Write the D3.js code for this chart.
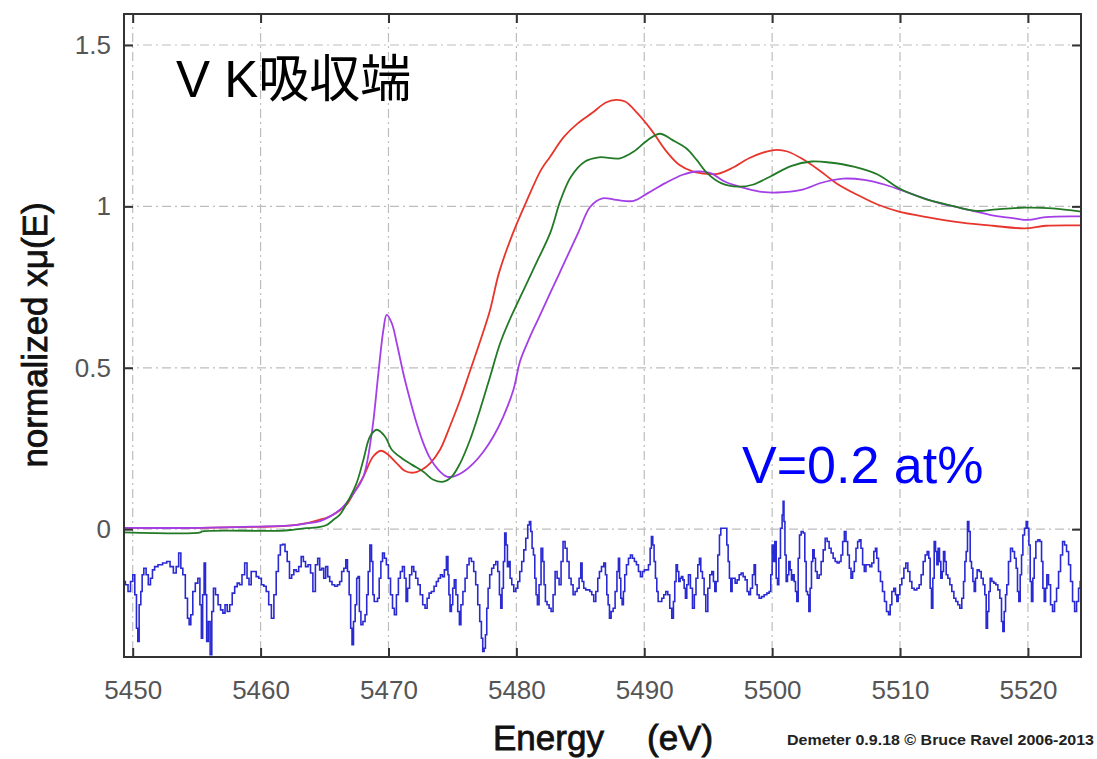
<!DOCTYPE html>
<html>
<head>
<meta charset="utf-8">
<script src="https://cdn.jsdelivr.net/npm/d3@7"></script>
<style>
  html, body { margin: 0; padding: 0; background: #fff; }
  svg { display: block; }
  text { font-family: "Liberation Sans", Arial, "Noto Sans CJK JP", sans-serif; }
</style>
</head>
<body>
<svg id="chart" width="1097" height="759"></svg>
<script>
// Axis settings
const energyDomain = [5449.32, 5524.15];
const muDomain = [-0.396, 1.596];
const energyTicks = [5450, 5460, 5470, 5480, 5490, 5500, 5510, 5520];
const muTicks = [0, 0.5, 1, 1.5];
const muTickLabels = ["0", "0.5", "1", "1.5"];

// Normalized spectra: [energy (eV), normalized mu]
const redSpectrum = [
  [5449.32, 0.004], [5455.3, 0.004], [5459.6, 0.007], [5462.0, 0.010], [5463.6, 0.019],
  [5464.7, 0.030], [5465.2, 0.036], [5466.2, 0.058], [5466.8, 0.08], [5467.25, 0.11],
  [5468.04, 0.163], [5468.8, 0.225], [5469.4, 0.243], [5470.0, 0.23], [5470.65, 0.204],
  [5471.3, 0.18], [5471.95, 0.175], [5472.6, 0.184], [5473.25, 0.204], [5474.03, 0.246],
  [5474.8, 0.318], [5475.6, 0.40], [5476.4, 0.493], [5477.2, 0.586], [5477.95, 0.68],
  [5478.64, 0.794], [5479.74, 0.918], [5480.84, 1.02], [5481.93, 1.113], [5482.64, 1.154],
  [5483.73, 1.216], [5484.82, 1.258], [5485.91, 1.289], [5487.0, 1.322], [5487.8, 1.330],
  [5488.5, 1.325], [5489.46, 1.289], [5490.55, 1.237], [5491.64, 1.175], [5492.73, 1.129],
  [5493.83, 1.108], [5494.92, 1.101], [5495.74, 1.101], [5496.83, 1.118], [5498.19, 1.149],
  [5499.56, 1.170], [5500.38, 1.175], [5501.2, 1.170], [5502.28, 1.149], [5503.65, 1.113],
  [5505.01, 1.072], [5506.65, 1.036], [5508.29, 1.005], [5509.92, 0.984], [5512.1, 0.967],
  [5514.84, 0.950], [5517.29, 0.940], [5519.75, 0.932], [5521.39, 0.940], [5524.15, 0.941]
];

const greenSpectrum = [
  [5449.32, -0.010], [5455.3, -0.010], [5455.4, -0.007], [5461.5, -0.005], [5462.5, -0.002],
  [5463.6, 0.003], [5464.65, 0.007], [5465.17, 0.013], [5465.7, 0.029], [5466.2, 0.045],
  [5466.74, 0.08], [5467.5, 0.142], [5468.04, 0.215], [5468.56, 0.287], [5469.08, 0.308],
  [5469.73, 0.287], [5470.26, 0.246], [5471.04, 0.22], [5471.82, 0.2], [5472.73, 0.178],
  [5473.51, 0.153], [5474.29, 0.147], [5474.95, 0.163], [5475.6, 0.204], [5476.38, 0.277],
  [5477.16, 0.37], [5477.95, 0.473], [5478.73, 0.576], [5479.47, 0.648], [5480.57, 0.741],
  [5481.67, 0.834], [5482.64, 0.917], [5483.46, 1.02], [5484.27, 1.092], [5485.37, 1.139],
  [5486.45, 1.152], [5488.1, 1.149], [5489.18, 1.170], [5490.28, 1.206], [5491.23, 1.225],
  [5492.19, 1.206], [5493.28, 1.18], [5494.1, 1.144], [5494.92, 1.103], [5496.01, 1.072],
  [5497.37, 1.061], [5498.47, 1.067], [5499.83, 1.092], [5501.47, 1.125], [5503.1, 1.139],
  [5504.47, 1.136], [5506.38, 1.123], [5508.29, 1.098], [5509.92, 1.056], [5511.83, 1.025],
  [5513.75, 1.005], [5515.93, 0.986], [5517.57, 0.991], [5519.75, 0.996], [5521.93, 0.994],
  [5524.15, 0.984]
];

const purpleSpectrum = [
  [5449.32, 0.004], [5455.3, 0.004], [5459.6, 0.008], [5462.5, 0.012], [5463.6, 0.018],
  [5464.65, 0.025], [5466.2, 0.06], [5467.25, 0.11], [5468.04, 0.163], [5468.69, 0.297],
  [5469.21, 0.483], [5469.6, 0.617], [5469.86, 0.664], [5470.26, 0.638], [5470.65, 0.576],
  [5471.16, 0.483], [5471.69, 0.40], [5472.2, 0.328], [5472.73, 0.266], [5473.25, 0.22],
  [5473.9, 0.184], [5474.56, 0.163], [5475.07, 0.163], [5475.86, 0.178], [5476.64, 0.204],
  [5477.42, 0.24], [5478.2, 0.287], [5478.98, 0.349], [5479.77, 0.432], [5480.29, 0.52],
  [5481.0, 0.59], [5481.67, 0.648], [5482.64, 0.731], [5483.73, 0.824], [5484.82, 0.917],
  [5485.78, 0.999], [5486.73, 1.025], [5487.82, 1.02], [5489.18, 1.017], [5490.28, 1.041],
  [5491.64, 1.072], [5493.01, 1.098], [5494.1, 1.108], [5495.19, 1.103], [5496.28, 1.077],
  [5497.64, 1.059], [5499.01, 1.046], [5500.38, 1.043], [5502.28, 1.051], [5503.93, 1.074],
  [5505.56, 1.086], [5507.2, 1.082], [5508.84, 1.067], [5510.75, 1.041], [5512.66, 1.015],
  [5514.84, 0.994], [5517.02, 0.974], [5518.93, 0.963], [5520.02, 0.958], [5521.39, 0.967],
  [5524.15, 0.969]
];

// Dilute sample (V = 0.2 at%), drawn offset below the reference spectra
const diluteSpectrum = [
  [5449.32,-0.162],[5449.53,-0.172],[5449.74,-0.193],[5449.92,-0.162],[5450.10,-0.141],
  [5450.23,-0.203],[5450.36,-0.307],[5450.44,-0.348],[5450.57,-0.234],[5450.70,-0.193],
  [5450.78,-0.141],[5450.96,-0.121],[5451.14,-0.141],[5451.30,-0.172],[5451.48,-0.152],
  [5451.61,-0.126],[5451.82,-0.116],[5452.14,-0.110],[5452.53,-0.105],[5452.79,-0.100],
  [5453.05,-0.116],[5453.31,-0.136],[5453.49,-0.116],[5453.70,-0.074],[5453.83,-0.121],
  [5454.01,-0.141],[5454.22,-0.214],[5454.35,-0.276],[5454.48,-0.296],[5454.61,-0.265],
  [5454.79,-0.193],[5455.00,-0.167],[5455.19,-0.152],[5455.32,-0.234],[5455.42,-0.338],
  [5455.52,-0.203],[5455.65,-0.105],[5455.73,-0.203],[5455.84,-0.348],[5455.99,-0.286],
  [5456.12,-0.389],[5456.25,-0.255],[5456.38,-0.183],[5456.57,-0.203],[5456.78,-0.234],
  [5456.96,-0.250],[5457.14,-0.260],[5457.30,-0.234],[5457.48,-0.255],[5457.69,-0.234],
  [5457.87,-0.198],[5458.08,-0.178],[5458.26,-0.167],[5458.44,-0.172],[5458.65,-0.141],
  [5458.86,-0.105],[5459.02,-0.152],[5459.17,-0.172],[5459.36,-0.131],[5459.56,-0.131],
  [5459.75,-0.147],[5459.96,-0.152],[5460.16,-0.172],[5460.35,-0.177],[5460.53,-0.193],
  [5460.74,-0.234],[5460.95,-0.276],[5461.13,-0.203],[5461.31,-0.131],[5461.47,-0.080],
  [5461.62,-0.049],[5461.83,-0.047],[5461.99,-0.069],[5462.17,-0.100],[5462.35,-0.152],
  [5462.51,-0.141],[5462.69,-0.126],[5462.88,-0.131],[5463.08,-0.116],[5463.27,-0.085],
  [5463.42,-0.100],[5463.61,-0.116],[5463.81,-0.110],[5464.00,-0.136],[5464.18,-0.193],
  [5464.39,-0.110],[5464.54,-0.090],[5464.70,-0.126],[5464.86,-0.121],[5465.01,-0.152],
  [5465.17,-0.116],[5465.33,-0.147],[5465.48,-0.162],[5465.69,-0.172],[5465.90,-0.177],
  [5466.11,-0.172],[5466.26,-0.162],[5466.42,-0.131],[5466.60,-0.121],[5466.73,-0.095],
  [5466.86,-0.131],[5466.99,-0.203],[5467.10,-0.307],[5467.20,-0.358],[5467.33,-0.286],
  [5467.46,-0.234],[5467.57,-0.152],[5467.67,-0.147],[5467.78,-0.255],[5467.91,-0.296],
  [5468.09,-0.286],[5468.25,-0.265],[5468.35,-0.203],[5468.48,-0.131],[5468.61,-0.049],
  [5468.74,-0.100],[5468.82,-0.203],[5468.95,-0.224],[5469.08,-0.224],[5469.21,-0.214],
  [5469.34,-0.152],[5469.47,-0.100],[5469.60,-0.074],[5469.76,-0.090],[5469.91,-0.110],
  [5470.07,-0.152],[5470.25,-0.203],[5470.38,-0.245],[5470.54,-0.265],[5470.70,-0.203],
  [5470.85,-0.152],[5471.01,-0.131],[5471.17,-0.116],[5471.32,-0.152],[5471.43,-0.224],
  [5471.56,-0.183],[5471.74,-0.141],[5471.90,-0.116],[5472.05,-0.131],[5472.21,-0.152],
  [5472.39,-0.172],[5472.57,-0.203],[5472.78,-0.234],[5472.94,-0.245],[5473.10,-0.214],
  [5473.25,-0.198],[5473.46,-0.193],[5473.67,-0.177],[5473.82,-0.162],[5473.98,-0.152],
  [5474.14,-0.141],[5474.29,-0.147],[5474.45,-0.126],[5474.61,-0.085],[5474.69,-0.141],
  [5474.76,-0.203],[5474.87,-0.255],[5474.97,-0.234],[5475.08,-0.183],[5475.21,-0.157],
  [5475.34,-0.203],[5475.49,-0.255],[5475.60,-0.296],[5475.73,-0.234],[5475.91,-0.193],
  [5476.07,-0.152],[5476.22,-0.110],[5476.38,-0.090],[5476.59,-0.100],[5476.74,-0.131],
  [5476.90,-0.172],[5477.06,-0.234],[5477.21,-0.286],[5477.32,-0.338],[5477.42,-0.379],
  [5477.53,-0.369],[5477.63,-0.327],[5477.74,-0.245],[5477.84,-0.183],[5477.99,-0.141],
  [5478.15,-0.121],[5478.31,-0.110],[5478.47,-0.100],[5478.62,-0.131],[5478.73,-0.203],
  [5478.83,-0.245],[5478.93,-0.183],[5479.04,-0.100],[5479.14,-0.012],[5479.25,-0.049],
  [5479.35,-0.116],[5479.46,-0.100],[5479.56,-0.152],[5479.72,-0.172],[5479.87,-0.193],
  [5480.03,-0.183],[5480.19,-0.162],[5480.34,-0.131],[5480.50,-0.100],[5480.66,-0.064],
  [5480.81,-0.028],[5480.97,0.013],[5481.07,0.024],[5481.18,-0.007],[5481.28,-0.059],
  [5481.39,-0.080],[5481.49,-0.152],[5481.59,-0.203],[5481.70,-0.234],[5481.85,-0.172],
  [5482.01,-0.059],[5482.11,-0.100],[5482.22,-0.172],[5482.32,-0.224],[5482.48,-0.234],
  [5482.64,-0.245],[5482.79,-0.255],[5482.95,-0.203],[5483.11,-0.131],[5483.26,-0.152],
  [5483.42,-0.172],[5483.57,-0.100],[5483.73,-0.038],[5483.89,-0.059],[5484.04,-0.100],
  [5484.20,-0.152],[5484.36,-0.172],[5484.51,-0.203],[5484.67,-0.193],[5484.83,-0.183],
  [5484.98,-0.152],[5485.09,-0.105],[5485.19,-0.162],[5485.35,-0.183],[5485.50,-0.188],
  [5485.66,-0.188],[5485.82,-0.193],[5485.97,-0.203],[5486.13,-0.224],[5486.29,-0.193],
  [5486.44,-0.152],[5486.55,-0.131],[5486.76,-0.116],[5486.91,-0.105],[5487.02,-0.141],
  [5487.12,-0.203],[5487.23,-0.234],[5487.33,-0.276],[5487.49,-0.255],[5487.64,-0.245],
  [5487.80,-0.193],[5487.93,-0.131],[5488.03,-0.090],[5488.11,-0.152],[5488.22,-0.214],
  [5488.32,-0.234],[5488.42,-0.193],[5488.53,-0.141],[5488.69,-0.110],[5488.84,-0.090],
  [5489.00,-0.080],[5489.15,-0.090],[5489.31,-0.100],[5489.47,-0.110],[5489.62,-0.131],
  [5489.78,-0.147],[5489.94,-0.131],[5490.09,-0.126],[5490.25,-0.126],[5490.41,-0.110],
  [5490.51,-0.059],[5490.61,-0.023],[5490.72,-0.049],[5490.82,-0.100],[5490.93,-0.152],
  [5491.03,-0.193],[5491.14,-0.224],[5491.29,-0.224],[5491.45,-0.214],[5491.61,-0.203],
  [5491.76,-0.193],[5491.92,-0.203],[5492.07,-0.245],[5492.23,-0.276],[5492.33,-0.224],
  [5492.44,-0.162],[5492.54,-0.110],[5492.65,-0.131],[5492.75,-0.162],[5492.86,-0.152],
  [5492.96,-0.147],[5493.07,-0.157],[5493.17,-0.183],[5493.27,-0.214],[5493.38,-0.172],
  [5493.53,-0.141],[5493.69,-0.183],[5493.85,-0.245],[5493.98,-0.203],[5494.11,-0.152],
  [5494.26,-0.110],[5494.37,-0.090],[5494.47,-0.131],[5494.63,-0.152],[5494.73,-0.203],
  [5494.89,-0.255],[5495.05,-0.183],[5495.20,-0.141],[5495.36,-0.131],[5495.46,-0.162],
  [5495.57,-0.193],[5495.67,-0.162],[5495.83,-0.080],[5495.93,-0.018],[5496.04,0.003],
  [5496.19,0.003],[5496.40,0.003],[5496.51,-0.049],[5496.61,-0.100],[5496.71,-0.152],
  [5496.82,-0.193],[5496.92,-0.152],[5497.03,-0.152],[5497.18,-0.167],[5497.34,-0.157],
  [5497.50,-0.141],[5497.65,-0.136],[5497.81,-0.147],[5497.97,-0.157],[5498.12,-0.193],
  [5498.23,-0.203],[5498.38,-0.183],[5498.54,-0.141],[5498.64,-0.110],[5498.75,-0.172],
  [5498.90,-0.203],[5499.06,-0.214],[5499.27,-0.209],[5499.48,-0.203],[5499.69,-0.198],
  [5499.84,-0.193],[5499.95,-0.141],[5500.05,-0.049],[5500.16,-0.100],[5500.26,-0.038],
  [5500.37,-0.152],[5500.47,-0.172],[5500.57,-0.090],[5500.73,0.003],[5500.83,0.044],
  [5500.89,0.086],[5500.96,0.024],[5501.04,-0.080],[5501.15,-0.162],[5501.25,-0.141],
  [5501.35,-0.100],[5501.46,-0.126],[5501.56,-0.157],[5501.67,-0.141],[5501.77,-0.162],
  [5501.88,-0.193],[5501.98,-0.224],[5502.09,-0.090],[5502.19,-0.018],[5502.35,-0.007],
  [5502.50,-0.012],[5502.61,-0.100],[5502.71,-0.193],[5502.82,-0.203],[5502.92,-0.255],
  [5503.02,-0.183],[5503.13,-0.100],[5503.23,-0.064],[5503.34,-0.090],[5503.44,-0.131],
  [5503.60,-0.152],[5503.75,-0.141],[5503.91,-0.100],[5504.07,-0.064],[5504.22,-0.028],
  [5504.38,-0.038],[5504.53,-0.059],[5504.69,-0.074],[5504.85,-0.090],[5505.00,-0.100],
  [5505.16,-0.105],[5505.32,-0.100],[5505.45,-0.080],[5505.58,-0.038],[5505.71,-0.007],
  [5505.84,-0.038],[5505.97,-0.080],[5506.10,-0.121],[5506.23,-0.152],[5506.36,-0.131],
  [5506.49,-0.100],[5506.62,-0.059],[5506.75,-0.038],[5506.88,-0.033],[5507.01,-0.059],
  [5507.14,-0.110],[5507.27,-0.131],[5507.40,-0.110],[5507.56,-0.110],[5507.72,-0.116],
  [5507.87,-0.105],[5508.03,-0.069],[5508.13,-0.059],[5508.24,-0.090],[5508.39,-0.131],
  [5508.55,-0.162],[5508.71,-0.193],[5508.86,-0.224],[5509.02,-0.255],[5509.18,-0.265],
  [5509.28,-0.234],[5509.44,-0.193],[5509.59,-0.183],[5509.70,-0.203],[5509.80,-0.224],
  [5509.91,-0.203],[5510.06,-0.172],[5510.22,-0.152],[5510.38,-0.121],[5510.53,-0.105],
  [5510.69,-0.131],[5510.85,-0.162],[5511.00,-0.183],[5511.21,-0.188],[5511.42,-0.183],
  [5511.57,-0.172],[5511.73,-0.141],[5511.89,-0.100],[5512.04,-0.080],[5512.20,-0.069],
  [5512.30,-0.090],[5512.41,-0.183],[5512.51,-0.245],[5512.62,-0.152],[5512.72,-0.038],
  [5512.83,-0.069],[5512.93,-0.110],[5513.03,-0.059],[5513.14,-0.100],[5513.24,-0.152],
  [5513.35,-0.131],[5513.45,-0.069],[5513.56,-0.100],[5513.66,-0.141],[5513.82,-0.152],
  [5513.97,-0.172],[5514.13,-0.193],[5514.29,-0.214],[5514.44,-0.224],[5514.60,-0.234],
  [5514.75,-0.245],[5514.91,-0.214],[5515.02,-0.162],[5515.12,-0.100],[5515.22,-0.069],
  [5515.33,0.024],[5515.43,-0.007],[5515.54,-0.100],[5515.64,-0.121],[5515.75,-0.162],
  [5515.85,-0.193],[5515.95,-0.152],[5516.11,-0.126],[5516.27,-0.131],[5516.42,-0.152],
  [5516.58,-0.172],[5516.68,-0.203],[5516.79,-0.307],[5516.89,-0.255],[5517.00,-0.193],
  [5517.10,-0.152],[5517.26,-0.162],[5517.41,-0.167],[5517.57,-0.172],[5517.73,-0.188],
  [5517.88,-0.214],[5517.99,-0.286],[5518.09,-0.317],[5518.20,-0.255],[5518.30,-0.203],
  [5518.40,-0.172],[5518.56,-0.100],[5518.72,-0.059],[5518.87,-0.069],[5519.03,-0.090],
  [5519.13,-0.121],[5519.24,-0.193],[5519.34,-0.224],[5519.45,-0.141],[5519.55,-0.080],
  [5519.66,-0.018],[5519.81,0.003],[5519.92,0.024],[5520.02,0.003],[5520.13,-0.049],
  [5520.23,-0.162],[5520.33,-0.224],[5520.44,-0.152],[5520.54,-0.090],[5520.70,-0.038],
  [5520.86,-0.033],[5521.01,-0.038],[5521.12,-0.100],[5521.22,-0.183],[5521.33,-0.224],
  [5521.43,-0.183],[5521.53,-0.141],[5521.69,-0.172],[5521.85,-0.234],[5522.00,-0.255],
  [5522.16,-0.224],[5522.32,-0.183],[5522.47,-0.131],[5522.63,-0.080],[5522.79,-0.038],
  [5522.94,-0.049],[5523.10,-0.069],[5523.26,-0.110],[5523.41,-0.162],[5523.57,-0.224],
  [5523.73,-0.255],[5523.88,-0.224],[5524.04,-0.183],[5524.14,-0.162]
];

const plot = { left: 124, right: 1081, top: 14, bottom: 657 };

const svg = d3.select("#chart");

const x = d3.scaleLinear().domain(energyDomain).range([plot.left, plot.right]);
const y = d3.scaleLinear().domain(muDomain).range([plot.bottom, plot.top]);

svg.append("defs").append("clipPath").attr("id", "plot-clip")
  .append("rect")
  .attr("x", plot.left).attr("y", plot.top)
  .attr("width", plot.right - plot.left).attr("height", plot.bottom - plot.top);

// Dash-dot grid
const grid = svg.append("g")
  .attr("stroke", "#bdbdbd")
  .attr("stroke-width", 1.2)
  .attr("stroke-dasharray", "9,4,2,4");
grid.selectAll("line.vx").data(energyTicks).join("line")
  .attr("x1", d => x(d)).attr("x2", d => x(d))
  .attr("y1", plot.top).attr("y2", plot.bottom);
grid.selectAll("line.hy").data(muTicks).join("line")
  .attr("x1", plot.left).attr("x2", plot.right)
  .attr("y1", d => y(d)).attr("y2", d => y(d));

// Spectra
const stepLine = d3.line().x(d => x(d[0])).y(d => y(d[1])).curve(d3.curveStep);
const smoothLine = d3.line().x(d => x(d[0])).y(d => y(d[1])).curve(d3.curveCatmullRom.alpha(0.5));
const curves = svg.append("g").attr("clip-path", "url(#plot-clip)").attr("fill", "none");

curves.append("path").datum(diluteSpectrum)
  .attr("d", stepLine)
  .attr("stroke", "#2a2ad2").attr("stroke-width", 1.6);

curves.append("path").datum(redSpectrum)
  .attr("d", smoothLine).attr("stroke", "#e8352c").attr("stroke-width", 1.8);
curves.append("path").datum(purpleSpectrum)
  .attr("d", smoothLine).attr("stroke", "#a43ee6").attr("stroke-width", 1.8);
curves.append("path").datum(greenSpectrum)
  .attr("d", smoothLine).attr("stroke", "#237a26").attr("stroke-width", 1.8);

// Axes: inward ticks on all four sides, labels on bottom and left
const tickLen = 9;
const labelFont = "26px";
const gBottom = svg.append("g").attr("transform", `translate(0,${plot.bottom})`)
  .call(d3.axisBottom(x).tickValues(energyTicks).tickSize(-tickLen).tickPadding(24).tickFormat(d3.format("d")));
const gLeft = svg.append("g").attr("transform", `translate(${plot.left},0)`)
  .call(d3.axisLeft(y).tickValues(muTicks).tickSize(-tickLen).tickPadding(13)
    .tickFormat((d, i) => muTickLabels[i]));
const gTop = svg.append("g").attr("transform", `translate(0,${plot.top})`)
  .call(d3.axisTop(x).tickValues(energyTicks).tickSize(-tickLen).tickFormat(""));
const gRight = svg.append("g").attr("transform", `translate(${plot.right},0)`)
  .call(d3.axisRight(y).tickValues(muTicks).tickSize(-tickLen).tickFormat(""));

[gBottom, gLeft, gTop, gRight].forEach(g => {
  g.select(".domain").remove();
  g.selectAll(".tick line").attr("stroke", "#333").attr("stroke-width", 2);
  g.selectAll(".tick text")
    .attr("fill", "#555")
    .style("font-size", labelFont)
    .style("font-family", "'Liberation Sans', Arial, sans-serif");
});

// Frame
svg.append("rect")
  .attr("x", plot.left).attr("y", plot.top)
  .attr("width", plot.right - plot.left).attr("height", plot.bottom - plot.top)
  .attr("fill", "none").attr("stroke", "#333").attr("stroke-width", 2);

// Axis titles (regular face, lightly stroked for a medium weight)
function title(sel) {
  return sel.style("font-size", "35px").attr("fill", "#111")
    .attr("stroke", "#111").attr("stroke-width", 0.8);
}
title(svg.append("text").attr("x", 493).attr("y", 750)).text("Energy");
title(svg.append("text").attr("x", 647).attr("y", 750)).text("(eV)");
title(svg.append("text")
  .attr("transform", "translate(47,335) rotate(-90)")
  .attr("text-anchor", "middle"))
  .text("normalized xμ(E)");

// Annotations
svg.append("text").attr("x", 176).attr("y", 97)
  .style("font-size", "51px").attr("fill", "#000")
  .style("font-family", "'Liberation Sans', Arial, 'Noto Sans CJK JP', sans-serif")
  .text("V K吸収端");
svg.append("text").attr("x", 742).attr("y", 483)
  .style("font-size", "52px").attr("fill", "#0000ff")
  .text("V=0.2 at%");
svg.append("text").attr("x", 787).attr("y", 745)
  .style("font-size", "14px").style("font-weight", "bold").attr("fill", "#222")
  .attr("textLength", 307).attr("lengthAdjust", "spacingAndGlyphs")
  .text("Demeter 0.9.18 © Bruce Ravel 2006-2013");
</script>
</body>
</html>
